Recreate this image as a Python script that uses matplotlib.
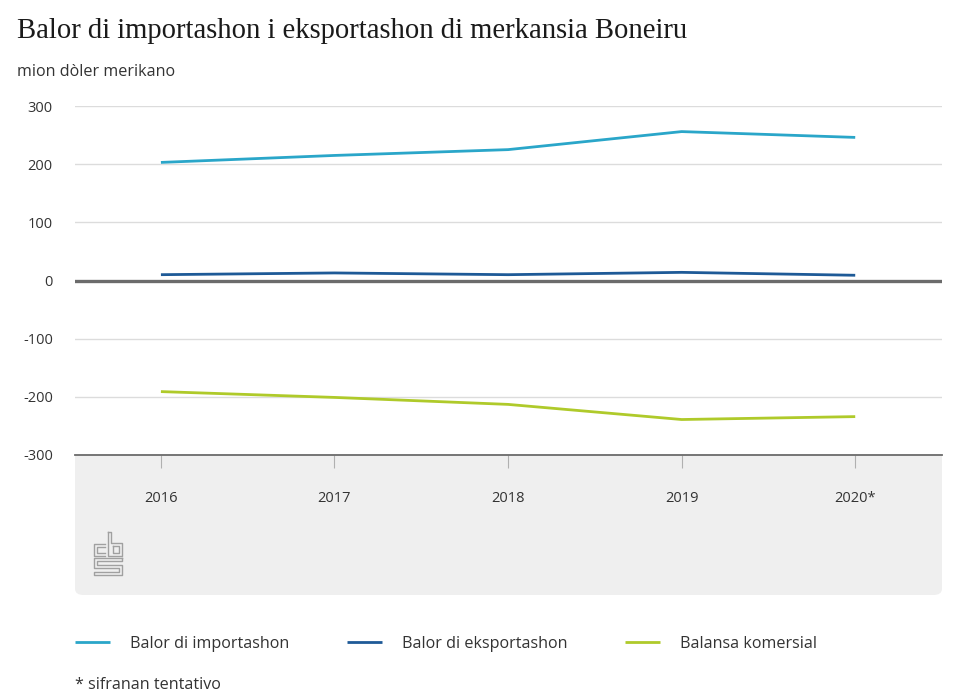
import matplotlib.pyplot as plt
from matplotlib.patches import FancyBboxPatch, Rectangle
from matplotlib.lines import Line2D

years = ["2016", "2017", "2018", "2019", "2020*"]
importashon = [203, 215, 225, 256, 246]
eksportashon = [10, 13, 10, 14, 9]
balansa = [-191, -201, -213, -239, -234]
yticks = [-300, -200, -100, 0, 100, 200, 300]

W, H = 960, 700
plt.rcParams['font.family'] = ['Open Sans', 'DejaVu Sans']

fig = plt.figure(figsize=(W / 100, H / 100), dpi=100)


def fx(x):
    return x / W


def fy(y):
    return 1 - y / H


# plot area in pixels: x 75..942, y 106..455
ax = fig.add_axes([fx(75), fy(455), fx(942) - fx(75), fy(106) - fy(455)])
xs = list(range(len(years)))

ax.plot(xs, importashon, color="#2aa6c9", lw=2.0, solid_capstyle="butt", zorder=3)
ax.plot(xs, eksportashon, color="#1e5a97", lw=2.0, solid_capstyle="butt", zorder=3)
ax.plot(xs, balansa, color="#afca2a", lw=2.0, solid_capstyle="butt", zorder=3)
ax.axhline(0, color="#6b6b6b", lw=2.4, zorder=2)

ax.set_xlim(-0.495, 4.5)
ax.set_ylim(-300, 300)
ax.set_yticks(yticks)
ax.set_yticklabels([str(v) for v in yticks])
ax.set_xticks(xs)
ax.set_xticklabels(years)
ax.set_axisbelow(True)
ax.grid(axis="y", color="#dcdcdc", lw=1.0)

for s in ["top", "right", "left"]:
    ax.spines[s].set_visible(False)
ax.spines["bottom"].set_color("#6b6b6b")
ax.spines["bottom"].set_linewidth(1.3)

ax.tick_params(axis="y", length=0, pad=16, labelsize=10.5, labelcolor="#333333")
ax.tick_params(axis="x", length=9, width=0.8, color="#b0b0b0", pad=17,
               labelsize=10.5, labelcolor="#333333")

# grey panel under the x axis
panel = FancyBboxPatch((fx(75), fy(595)), fx(942) - fx(75), fy(455) - fy(595),
                       boxstyle="round,pad=0,rounding_size=0.009",
                       transform=fig.transFigure, facecolor="#efefef",
                       edgecolor="none", zorder=-2)
fig.patches.append(panel)
fig.patches.append(Rectangle((fx(75), fy(480)), fx(942) - fx(75), fy(455) - fy(480),
                             transform=fig.transFigure, facecolor="#efefef",
                             edgecolor="none", zorder=-2))

# cbs logo
logo = [
    [(105, 544), (94, 544), (94, 556), (105, 556)],
    [(105, 547), (97, 547), (97, 553), (105, 553)],
    [(108, 532), (108, 556), (122, 556), (122, 543), (111, 543), (111, 532), (108, 532)],
    [(113, 546), (119, 546), (119, 553), (113, 553), (113, 546)],
    [(122, 558), (94, 558), (94, 568), (119, 568), (119, 572), (94, 572), (94, 575),
     (122, 575), (122, 565), (97, 565), (97, 561), (122, 561), (122, 558)],
]
for pts in logo:
    fig.add_artist(Line2D([fx(p[0]) for p in pts], [fy(p[1]) for p in pts],
                          color="#a0a0a0", lw=1.0, transform=fig.transFigure))

fig.text(fx(17), fy(31), "Balor di importashon i eksportashon di merkansia Boneiru",
         family=["Liberation Serif", "DejaVu Serif"], fontsize=20.6, color="#1a1a1a",
         va="center", ha="left")
fig.text(fx(17), fy(72), "mion dòler merikano", fontsize=11.6, color="#333333",
         va="center", ha="left")

handles = ax.get_lines()[:3]
fig.legend(handles, ["Balor di importashon", "Balor di eksportashon", "Balansa komersial"],
           loc="center left", bbox_to_anchor=(fx(75), fy(644)), ncol=3, frameon=False,
           fontsize=11.6, handlelength=2.15, handletextpad=1.25, columnspacing=3.6,
           borderpad=0, borderaxespad=0, labelcolor="#333333")

fig.text(fx(75), fy(685), "* sifranan tentativo", fontsize=11.6, color="#333333",
         va="center", ha="left")

fig.savefig("out.png", dpi=100)
